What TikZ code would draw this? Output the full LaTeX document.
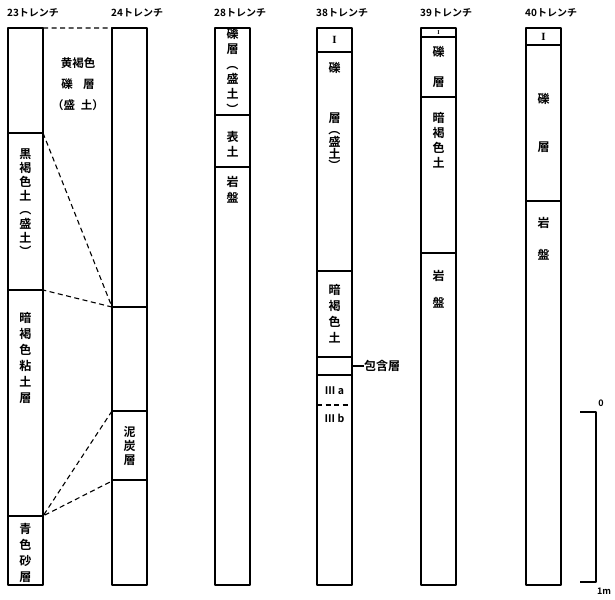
\documentclass[tikz,border=0pt]{standalone}
\usepackage{fontspec}
\setmainfont{Noto Sans CJK JP Bold}
\newfontfamily\romfont{Liberation Serif}[Scale=1]
\newcommand{\vpo}{\rotatebox[origin=c]{-90}{（}}
\newcommand{\vpc}{\rotatebox[origin=c]{-90}{）}}
\tikzset{
  col/.style={line width=1.3pt},
  bnd/.style={line width=1.1pt},
  dsh/.style={line width=1.1pt, dash pattern=on 5pt off 3.5pt},
  lay/.style={align=center, inner sep=0pt, font=\fontsize{12}{#1}\selectfont},
  lay/.default=15,
  ttl/.style={anchor=west, inner sep=0pt, font=\fontsize{10}{11}\selectfont},
  num/.style={inner sep=0pt, font=\romfont\bfseries\fontsize{#1}{#1}\selectfont},
  num/.default=11
}
\begin{document}
\begin{tikzpicture}[x=1pt, y=-1pt, line join=round]
\useasboundingbox (0,0) rectangle (615,599);
% columns and titles
\foreach \c/\xl in {23/8, 24/112, 28/215, 38/317, 39/421, 40/526} {
  \node[ttl] (t\c) at (\xl-1,13) {\c トレンチ};
  \draw[col] (\xl,28) rectangle ++(35,557);
}
% layer boundaries
\foreach \xl/\ys in {8/{133,290,516}, 112/{307,411,480}, 215/{115,167},
                     317/{52,271,357,375}, 421/{37,97,253}, 526/{45,201}}
  \foreach \y in \ys \draw[bnd] (\xl,\y) -- ++(35,0);
\draw[dsh] (317,405) -- (352,405);
% correlation between 23 and 24
\path (43,28) coordinate (p0) (112,28) coordinate (q0)
      (43,133) coordinate (p1) (112,307) coordinate (q1)
      (43,290) coordinate (p2)
      (43,516) coordinate (p3) (112,411) coordinate (q2) (112,481) coordinate (q3);
\draw[dsh] (p0)--(q0) (p1)--(q1)--(p2) (q2)--(p3)--(q3);
\node[align=center, inner sep=0pt, font=\fontsize{11.5}{21}\selectfont] (fill23)
  at (78,84) {黄褐色\\礫\hspace{0.9em}層\\（盛\hspace{0.5em}土）};
% 23
\node[lay=14] (l23a) at (25.5,203) {黒\\褐\\色\\土\\\vpo\\盛\\土\\\vpc};
\node[lay=16] (l23b) at (25.5,358) {暗\\褐\\色\\粘\\土\\層};
\node[lay=16] (l23c) at (25.5,553) {青\\色\\砂\\層};
% 24
\node[lay=14] (l24a) at (129.5,446) {泥\\炭\\層};
% 28
\node[lay] (l28a) at (232.5,72) {礫\\層\\\vpo\\盛\\土\\\vpc};
\node[lay] (l28b) at (232.5,144) {表\\土};
\node[lay=16] (l28c) at (232.5,190) {岩\\盤};
% 38
\node[num] (l38a) at (334.5,40) {I};
\node[lay] (l38b) at (334.5,68) {礫};
\node[lay=12] (l38c) at (334.5,142) {層\\\vpo\\盛\\土\\\vpc};
\node[lay=16] (l38d) at (334.5,314) {暗\\褐\\色\\土};
\node[anchor=west, inner sep=0pt, font=\fontsize{12}{12}\selectfont] (l38e) at (364,366) {包含層};
\coordinate (r38) at (352,366);
\draw[bnd] (r38) -- (l38e.west);
\node[inner sep=0pt, font=\fontsize{10.5}{11}\selectfont] (l38f) at (334.5,391) {Ⅲ a};
\node[inner sep=0pt, font=\fontsize{10.5}{11}\selectfont] (l38g) at (334.5,418) {Ⅲ b};
% 39
\node[num=6] (l39a) at (438.5,32.5) {I};
\node[lay=30] (l39b) at (438.5,67) {礫\\層};
\node[lay] (l39c) at (438.5,140) {暗\\褐\\色\\土};
\node[lay=27] (l39d) at (438.5,289) {岩\\盤};
% 40
\node[num] (l40a) at (543.5,37) {I};
\node[lay=48] (l40b) at (543.5,123) {礫\\層};
\node[lay=32] (l40c) at (543.5,239) {岩\\盤};
% scale
\path (580,412) coordinate (s0) (596,412) coordinate (s1)
      (596,582) coordinate (s2) (580,582) coordinate (s3);
\draw[line width=2pt] (s0)--(s1)--(s2)--(s3);
\node[inner sep=0pt, font=\fontsize{9}{10}\selectfont] (z0) at (601,403) {0};
\node[inner sep=0pt, font=\fontsize{9}{10}\selectfont] (z1) at (604,591) {1m};
\end{tikzpicture}
\end{document}
